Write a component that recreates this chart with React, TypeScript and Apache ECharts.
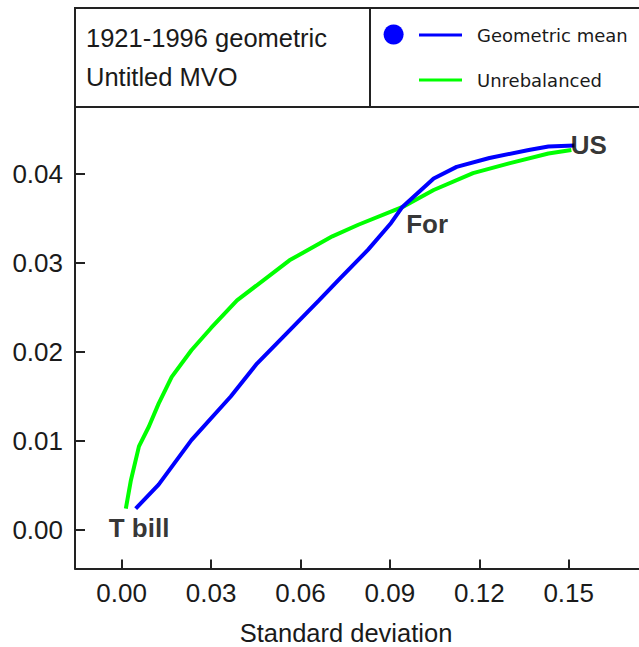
import React, { useEffect, useRef } from 'react';
import * as echarts from 'echarts';

// Geometric mean frontier (standard deviation, return)
const geoX = [0.0047, 0.0124, 0.0234, 0.0366, 0.0454, 0.0542, 0.0662, 0.0728, 0.0827, 0.0904, 0.0942, 0.1047, 0.1124, 0.1234, 0.1366, 0.1432, 0.1519];
const geoY = [0.0024, 0.0051, 0.0101, 0.0150, 0.0187, 0.0217, 0.0258, 0.0281, 0.0315, 0.0345, 0.0363, 0.0395, 0.0408, 0.0418, 0.0427, 0.0431, 0.0432];

// Unrebalanced frontier
const unrebX = [0.0014, 0.0031, 0.0058, 0.0091, 0.0124, 0.0168, 0.0234, 0.0300, 0.0387, 0.0563, 0.0707, 0.0794, 0.0943, 0.1047, 0.1179, 0.1300, 0.1432, 0.1509];
const unrebY = [0.0024, 0.0056, 0.0094, 0.0116, 0.0142, 0.0172, 0.0202, 0.0227, 0.0258, 0.0303, 0.0330, 0.0343, 0.0363, 0.0382, 0.0401, 0.0412, 0.0423, 0.0427];

// Asset labels
const pointNames = ['T bill', 'For', 'US'];
const pointX = [-0.0045, 0.0953, 0.1505];
const pointY = [0.0002, 0.0344, 0.0433];

const xTicks = [0, 0.03, 0.06, 0.09, 0.12, 0.15];
const yTicks = [0, 0.01, 0.02, 0.03, 0.04];

const titleLines = ['1921-1996 geometric', 'Untitled MVO'];
const seriesNames = ['Geometric mean', 'Unrebalanced'];
const xAxisTitle = 'Standard deviation';

const BLUE = '#0000ff';
const GREEN = '#00ff00';
const INK = '#1a1a1a';
const FONT = 'Liberation Sans';

export default function App() {
  const ref = useRef<HTMLDivElement>(null);

  useEffect(() => {
    if (!ref.current) return;
    const chart = echarts.init(ref.current, null, { renderer: 'svg' });
    const axisCommon = {
      axisLine: { show: true, onZero: false, lineStyle: { color: '#222', width: 2 } },
      splitLine: { show: false },
    };
    chart.setOption({
      animation: false,
      backgroundColor: '#ffffff',
      grid: { left: 75, top: 107, right: -10, bottom: 78.5, containLabel: false },
      xAxis: {
        type: 'value',
        min: -0.01566,
        max: 0.17359,
        ...axisCommon,
        axisTick: { show: true, inside: true, length: 9, customValues: xTicks, lineStyle: { color: '#222', width: 2 } },
        axisLabel: {
          customValues: xTicks,
          formatter: (v: number) => v.toFixed(2),
          fontSize: 26,
          fontFamily: FONT,
          color: INK,
          margin: 11,
        },
      },
      yAxis: {
        type: 'value',
        min: -0.004326,
        max: 0.04753,
        ...axisCommon,
        axisTick: { show: true, inside: true, length: 10, customValues: yTicks, lineStyle: { color: '#222', width: 2 } },
        axisLabel: {
          customValues: yTicks,
          formatter: (v: number) => v.toFixed(2),
          fontSize: 26,
          fontFamily: FONT,
          color: INK,
          margin: 12,
        },
      },
      series: [
        {
          name: seriesNames[1],
          type: 'line',
          data: unrebX.map((x, i) => [x, unrebY[i]]),
          symbol: 'none',
          lineStyle: { color: GREEN, width: 4 },
          z: 2,
        },
        {
          name: seriesNames[0],
          type: 'line',
          data: geoX.map((x, i) => [x, geoY[i]]),
          symbol: 'none',
          lineStyle: { color: BLUE, width: 4 },
          z: 3,
        },
        {
          type: 'scatter',
          data: pointX.map((x, i) => ({ value: [x, pointY[i]], name: pointNames[i] })),
          symbolSize: 1,
          itemStyle: { color: 'transparent' },
          z: 4,
          label: {
            show: true,
            position: 'right',
            distance: 0,
            formatter: '{b}',
            fontSize: 26,
            fontWeight: 'bold',
            fontFamily: FONT,
            color: '#000',
          },
        },
      ],
      graphic: [
        {
          type: 'rect',
          shape: { x: 75, y: 8, width: 620, height: 99 },
          style: { fill: 'none', stroke: '#222', lineWidth: 2 },
          z: 10,
        },
        {
          type: 'line',
          shape: { x1: 370, y1: 8, x2: 370, y2: 107 },
          style: { stroke: '#222', lineWidth: 2 },
          z: 10,
        },
        {
          type: 'text',
          x: 86,
          y: 38,
          style: { text: titleLines[0], fontSize: 25.5, fontFamily: FONT, fill: INK, align: 'left', verticalAlign: 'middle' },
          z: 10,
        },
        {
          type: 'text',
          x: 86,
          y: 77,
          style: { text: titleLines[1], fontSize: 25.5, fontFamily: FONT, fill: INK, align: 'left', verticalAlign: 'middle' },
          z: 10,
        },
        {
          type: 'circle',
          shape: { cx: 393.6, cy: 34.5, r: 10 },
          style: { fill: BLUE },
          z: 10,
        },
        {
          type: 'line',
          shape: { x1: 419, y1: 35, x2: 462, y2: 35 },
          style: { stroke: BLUE, lineWidth: 3 },
          z: 10,
        },
        {
          type: 'text',
          x: 477,
          y: 35,
          style: { text: seriesNames[0], fontSize: 18, fontFamily: 'DejaVu Sans', fill: INK, align: 'left', verticalAlign: 'middle' },
          z: 10,
        },
        {
          type: 'line',
          shape: { x1: 419, y1: 80, x2: 462, y2: 80 },
          style: { stroke: GREEN, lineWidth: 3 },
          z: 10,
        },
        {
          type: 'text',
          x: 477,
          y: 80,
          style: { text: seriesNames[1], fontSize: 18, fontFamily: 'DejaVu Sans', fill: INK, align: 'left', verticalAlign: 'middle' },
          z: 10,
        },
        {
          type: 'text',
          x: 346,
          y: 633,
          style: { text: xAxisTitle, fontSize: 25.5, fontFamily: FONT, fill: INK, align: 'center', verticalAlign: 'middle' },
          z: 10,
        },
      ],
    });
    return () => chart.dispose();
  }, []);

  return (
    <div
      ref={ref}
      style={{ position: 'absolute', left: 0, top: 0, width: 639, height: 647, background: '#fff' }}
    />
  );
}
